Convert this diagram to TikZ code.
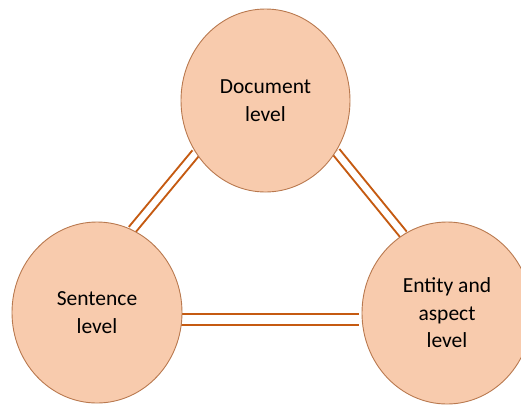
\documentclass[tikz,border=0pt]{standalone}
\usepackage{fontspec}
\setmainfont{Carlito}
\usetikzlibrary{shapes.geometric,backgrounds}
\definecolor{bubblefill}{HTML}{F8CBAD}
\definecolor{bubbleedge}{HTML}{B9794F}
\definecolor{linkcol}{HTML}{C55A11}
\tikzset{
  level/.style={ellipse, draw=bubbleedge, line width=0.9pt, fill=bubblefill,
    inner sep=0pt, align=center, text=black,
    font=\fontsize{21.5}{27.5}\selectfont},
  link/.style={draw=linkcol, line width=2pt, double=white}
}
\begin{document}
\begin{tikzpicture}[x=1pt,y=-1pt]
  \useasboundingbox (0,0) rectangle (521,405);
  \clip (0,0) rectangle (521,405);
  \node[level, minimum width=169pt, minimum height=183pt] (doc)  at (265.5,100.5) {Document\\level};
  \node[level, minimum width=170pt, minimum height=181pt] (sent) at (97,312.5) {Sentence\\level};
  \node[level, minimum width=170pt, minimum height=182pt] (ent)  at (447,313) {Entity and\\aspect\\level};
  \begin{scope}[on background layer]
    \draw[link, double distance=6.5pt] (doc.217) -- (sent.67.5);
    \draw[link, double distance=6.5pt] (doc.324.4) -- (ent.119.4);
    \draw[link, double distance=9pt] ([xshift=-3pt]sent.355.8) -- ([xshift=-3pt]sent.355.8 -| ent.west);
  \end{scope}
\end{tikzpicture}
\end{document}
